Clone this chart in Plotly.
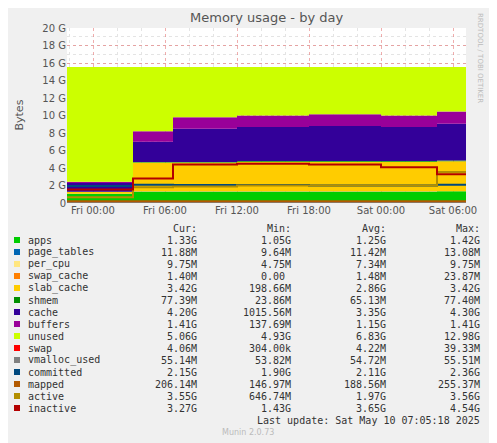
import plotly.graph_objects as go

times = ["2025-05-08 21:50", "2025-05-09 03:20", "2025-05-09 06:40", "2025-05-09 12:00",
         "2025-05-09 18:00", "2025-05-10 00:00", "2025-05-10 04:40", "2025-05-10 07:05"]
total_mem = 15.55
apps = [1.05, 1.3, 1.3, 1.3, 1.3, 1.3, 1.33, 1.33]
page_tables = [0.011] * 8
per_cpu = [0.007] * 8
swap_cache = [0.001] * 8
slab_cache = [0.2, 3.3, 3.3, 3.4, 3.4, 3.4, 3.42, 3.42]
shmem = [0.024, 0.07, 0.07, 0.07, 0.075, 0.077, 0.077, 0.077]
cache = [1.0, 2.3, 3.8, 3.9, 4.0, 3.9, 4.2, 4.2]
buffers = [0.14, 1.2, 1.3, 1.3, 1.35, 1.3, 1.41, 1.41]
swap = [0.004] * 8
vmalloc_used = [0.055] * 8
committed = [1.95, 2.1, 2.05, 2.05, 2.0, 2.0, 2.1, 2.15]
mapped = [0.19, 0.2, 0.2, 0.2, 0.2, 0.2, 0.206, 0.206]
active = [0.65, 1.8, 1.9, 2.0, 2.0, 2.0, 3.55, 3.55]
inactive = [1.55, 2.8, 4.4, 4.5, 4.4, 4.1, 3.3, 3.27]

used = [a+b+c+d+e+f+g+h for a, b, c, d, e, f, g, h in
        zip(apps, page_tables, per_cpu, swap_cache, slab_cache, shmem, cache, buffers)]
unused = [total_mem - u for u in used]

stack = [("apps", apps, "#00CC00"), ("page_tables", page_tables, "#0066B3"),
         ("per_cpu", per_cpu, "#FFE680"), ("swap_cache", swap_cache, "#FF8000"),
         ("slab_cache", slab_cache, "#FFCC00"), ("shmem", shmem, "#008F00"),
         ("cache", cache, "#330099"), ("buffers", buffers, "#990099"),
         ("unused", unused, "#CCFF00"), ("swap", swap, "#FF0000")]
lines = [("vmalloc_used", vmalloc_used, "#808080"), ("committed", committed, "#00487D"),
         ("mapped", mapped, "#B35A00"), ("active", active, "#B38F00"),
         ("inactive", inactive, "#B30000")]

legend_rows = [
    ("apps", "#00CC00", "1.33G", "1.05G", "1.25G", "1.42G"),
    ("page_tables", "#0066B3", "11.88M", "9.64M", "11.42M", "13.08M"),
    ("per_cpu", "#FFE680", "9.75M", "4.75M", "7.34M", "9.75M"),
    ("swap_cache", "#FF8000", "1.40M", "0.00 ", "1.48M", "23.87M"),
    ("slab_cache", "#FFCC00", "3.42G", "198.66M", "2.86G", "3.42G"),
    ("shmem", "#008F00", "77.39M", "23.86M", "65.13M", "77.40M"),
    ("cache", "#330099", "4.20G", "1015.56M", "3.35G", "4.30G"),
    ("buffers", "#990099", "1.41G", "137.69M", "1.15G", "1.41G"),
    ("unused", "#CCFF00", "5.06G", "4.93G", "6.83G", "12.98G"),
    ("swap", "#FF0000", "4.06M", "304.00k", "4.22M", "39.33M"),
    ("vmalloc_used", "#808080", "55.14M", "53.82M", "54.72M", "55.51M"),
    ("committed", "#00487D", "2.15G", "1.90G", "2.11G", "2.36G"),
    ("mapped", "#B35A00", "206.14M", "146.97M", "188.56M", "255.37M"),
    ("active", "#B38F00", "3.55G", "646.74M", "1.97G", "3.56G"),
    ("inactive", "#B30000", "3.27G", "1.43G", "3.65G", "4.54G"),
]

fig = go.Figure()
for name, vals, col in stack:
    fig.add_trace(go.Scatter(x=times, y=vals, name=name, stackgroup="s", mode="lines",
                             line=dict(width=0, color=col, shape="hv"), fillcolor=col))
for name, vals, col in lines:
    fig.add_trace(go.Scatter(x=times, y=vals, name=name, mode="lines",
                             line=dict(width=2, color=col, shape="hv")))

OFF = 8  # page offset of the figure
W, H = 497 - OFF, 443 - OFF
L, R, T, B = 67, 466, 28, 203
def px(x): return (x - L) / (R - L)
def py(y): return (B - y) / (B - T)

ann = []
mono = dict(family="DejaVu Sans Mono", size=10, color="#333")
ann.append(dict(x=0.5, y=py(18), text="Memory usage - by day", showarrow=False,
                font=dict(family="DejaVu Sans", size=13, color="#555")))
ann.append(dict(x=px(486), y=py(58), text="RRDTOOL / TOBI OETIKER", textangle=90,
                showarrow=False, font=dict(family="DejaVu Sans", size=7, color="#bbb")))
ann.append(dict(x=px(10), y=py(115), text="Bytes", textangle=-90, showarrow=False,
                font=dict(family="DejaVu Sans", size=11, color="#555")))
cols_x = [199, 293, 388, 482]
for cx, h in zip(cols_x, ["Cur:", "Min:", "Avg:", "Max:"]):
    ann.append(dict(x=px(cx), y=py(228), text=h, showarrow=False, xanchor="right", font=mono))
shapes = []
for i, row in enumerate(legend_rows):
    yy = 240 + i * 12
    ann.append(dict(x=px(26), y=py(yy), text=row[0], showarrow=False, xanchor="left", font=mono))
    for cx, v in zip(cols_x, row[2:]):
        ann.append(dict(x=px(cx), y=py(yy), text=v, showarrow=False, xanchor="right", font=mono))
    shapes.append(dict(type="rect", xref="paper", yref="paper", x0=px(14), x1=px(20),
                       y0=py(yy + 3), y1=py(yy - 3), fillcolor=row[1], line=dict(width=0)))
ann.append(dict(x=px(482), y=py(420), text="Last update: Sat May 10 07:05:18 2025",
                showarrow=False, xanchor="right", font=mono))
ann.append(dict(x=px(248), y=py(432), text="Munin 2.0.73", showarrow=False,
                font=dict(family="DejaVu Sans", size=8, color="#bbb")))
for a in ann:
    a.setdefault("xref", "paper"); a.setdefault("yref", "paper")
    a.setdefault("yanchor", "middle")

fig.update_layout(
    width=W, height=H, margin=dict(l=L - OFF, r=497 - R, t=T - OFF, b=443 - B),
    paper_bgcolor="#f0f0f0", plot_bgcolor="white", showlegend=False,
    annotations=ann, shapes=shapes,
    xaxis=dict(range=["2025-05-08 21:50", "2025-05-10 07:05"], tickformat="%a %H:%M",
               dtick=6 * 3600 * 1000, tick0="2025-05-09 00:00",
               showgrid=True, gridcolor="rgba(230,120,120,0.6)", griddash="dot",
               tickfont=dict(family="DejaVu Sans", size=10, color="#555"), ticks="",
               minor=dict(dtick=3600 * 1000 * 2, showgrid=True, gridcolor="#e4e4e4", griddash="dot"),
               layer="above traces"),
    yaxis=dict(range=[0, 20], tickvals=list(range(0, 21, 2)),
               ticktext=["0"] + [f"{v} G" for v in range(2, 21, 2)],
               showgrid=True, gridcolor="rgba(230,120,120,0.6)", griddash="dot",
               tickfont=dict(family="DejaVu Sans", size=10, color="#555"), zeroline=False,
               minor=dict(dtick=1, showgrid=True, gridcolor="#e4e4e4", griddash="dot"),
               layer="above traces"),
)
fig.write_html("out.html")
